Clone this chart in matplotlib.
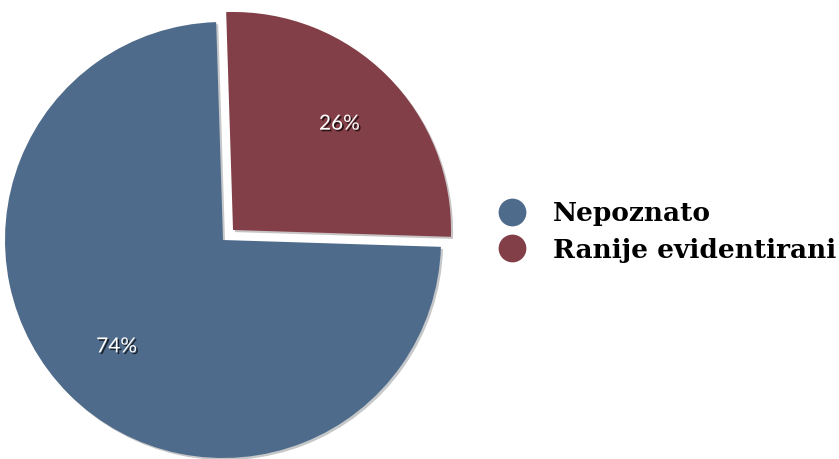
import matplotlib.pyplot as plt
import matplotlib.patheffects as pe
from matplotlib.lines import Line2D

labels = ['Nepoznato', 'Ranije evidentirani']
shares = [74, 26]
colors = ['#4f6b8b', '#833f47']
explode = [0, 0.065]

W, H = 839, 459
R = 218.0          # pie radius in pixels
cx, cy = 223, 240  # pie centre in pixels (from top)

fig = plt.figure(figsize=(W / 100, H / 100), dpi=100)
ax = fig.add_axes([0, 0, 1, 1])

wedges, texts, autotexts = ax.pie(
    shares, colors=colors, explode=explode, startangle=91.8,
    counterclock=True, autopct='%d%%', pctdistance=0.69,
    wedgeprops=dict(linewidth=0),
    textprops=dict(color='white', fontsize=15, family='Lato'))

for w in wedges:
    w.set_path_effects([pe.SimplePatchShadow(offset=(1.5, -1.5), alpha=0.25), pe.Normal()])
for t in autotexts:
    t.set_path_effects([pe.withSimplePatchShadow(offset=(1.2, -1.2), shadow_rgbFace='black', alpha=0.7)])

ax.set_xlim(-cx / R, (W - cx) / R)
ax.set_ylim(-(H - cy) / R, cy / R)
ax.set_aspect('equal')
ax.axis('off')

handles = [Line2D([], [], marker='o', linestyle='none', markersize=20,
                  markerfacecolor=c, markeredgewidth=0) for c in colors]
ax.legend(handles, labels, loc='center left', bbox_to_anchor=(0.563, 0.495),
          frameon=False, handletextpad=0.95, handlelength=1.2, labelspacing=0.45,
          prop=dict(family='DejaVu Serif', weight='heavy', size=19))

fig.savefig('out.png', dpi=100)
